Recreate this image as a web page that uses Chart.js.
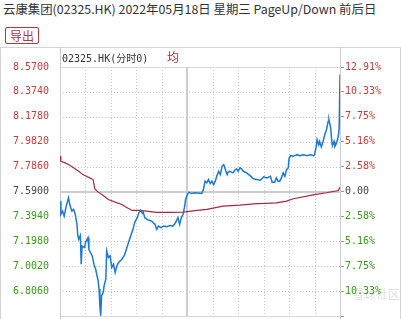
<!DOCTYPE html>
<html>
<head>
<meta charset="utf-8">
<script src="https://cdn.jsdelivr.net/npm/chart.js@4"></script>
<style>
  html,body{margin:0;padding:0;background:#fff;overflow:hidden;width:401px;height:319px;}
  .title{position:absolute;left:3px;top:0px;font:12.4px "Noto Sans CJK SC",sans-serif;color:#333;white-space:nowrap;}
  .btn{position:absolute;left:5px;top:27px;width:32px;height:15px;border:1px solid #b03a3a;border-radius:2px;
       font:12px/15px "Noto Sans CJK SC",sans-serif;color:#b03a3a;text-align:center;}
  .panel{position:absolute;left:0;top:47px;width:399px;height:290px;border:1px solid #d4d4d4;}
  .wrap{position:absolute;left:0;top:47px;width:401px;height:278px;}
  .code{position:absolute;left:62px;top:50px;font:10px "DejaVu Sans Mono","Noto Sans CJK SC",monospace;color:#333;white-space:nowrap;}
  .avg{position:absolute;left:167px;top:48px;font:12px "Noto Sans CJK SC",sans-serif;color:#b0303c;}
  .wm{position:absolute;left:352px;top:285px;font:12px "Noto Sans CJK SC",sans-serif;color:rgba(140,140,140,0.28);}
</style>
</head>
<body>
<div class="title">云康集团(02325.HK) 2022年05月18日 星期三 PageUp/Down 前后日</div>
<div class="btn">导出</div>
<div class="panel"></div>
<div class="wrap"><canvas id="chart"></canvas></div>
<div class="code">02325.HK(分时0)</div>
<div class="avg">均</div>
<div class="wm">雪球社区</div>
<script>
const prevClose = 7.59;
const priceTicks = [8.57, 8.374, 8.178, 7.982, 7.786, 7.59, 7.394, 7.198, 7.002, 6.806, 6.61];
const priceLabels = ['8.5700','8.3740','8.1780','7.9820','7.7860','7.5900','7.3940','7.1980','7.0020','6.8060',''];
const pctLabels = ['12.91%','10.33%','7.75%','5.16%','2.58%','0.00','2.58%','5.16%','7.75%','10.33%',''];
const timeTicks = [0,30,60,90,120,150,180,210,240,270,300,330];

// minute of session (0..330) and last price
const priceMinutes = [0,1,3,5,7,10,12,14,16,18,20,21,22,24,25,26,29,30,33,34,37,38,40,42,44,45,46,47,48,49,51,52,54,55,57,59,61,63,65,67,69,73,76,82,86,88,91,93,95,97,98,100,104,108,112,114,116,119,122,126,130,133,135,137,139,141,143,145,147,148,150,152,155,159,167,169,171,173,175,177,179,181,183,185,187,189,191,193,195,197,198,200,204,206,208,210,212,214,216,220,224,228,232,236,240,244,248,250,253,255,257,259,261,263,265,267,269,270,272,275,279,283,287,291,295,299,300,302,303,305,306,308,310,312,314,316,317,319,320,321,323,324,326,328,329,330];
const priceValues = [7.514,7.410,7.436,7.396,7.465,7.541,7.475,7.436,7.449,7.410,7.331,7.240,7.214,7.245,7.018,7.161,7.149,7.188,7.227,7.135,7.096,7.083,7.018,6.978,6.916,6.887,6.822,6.691,6.612,6.769,6.796,6.848,6.900,7.122,7.070,7.083,6.992,7.018,6.953,7.004,7.031,7.057,7.088,7.214,7.292,7.345,7.384,7.423,7.443,7.418,7.428,7.384,7.365,7.357,7.331,7.292,7.318,7.305,7.318,7.313,7.323,7.318,7.331,7.357,7.384,7.331,7.384,7.410,7.475,7.527,7.566,7.585,7.574,7.580,7.574,7.606,7.671,7.658,7.684,7.653,7.671,7.645,7.671,7.715,7.749,7.723,7.788,7.802,7.762,7.723,7.741,7.749,7.737,7.757,7.768,7.749,7.776,7.768,7.749,7.737,7.715,7.690,7.684,7.679,7.705,7.697,7.710,7.663,7.663,7.697,7.671,7.671,7.697,7.737,7.710,7.762,7.776,7.854,7.872,7.867,7.880,7.872,7.880,7.872,7.880,7.872,7.880,7.945,7.998,7.958,7.984,7.940,7.984,8.037,8.076,8.141,8.154,8.089,8.011,7.951,7.984,7.945,7.972,8.024,8.089,8.51];

// average price
const avgMinutes = [0,1,6,10,16,22,27,31,35,39,41,45,51,57,65,73,77,85,94,102,114,130,145,159,173,192,212,232,242,255,267,275,300,314,328,330];
const avgValues = [7.867,7.828,7.815,7.802,7.776,7.749,7.723,7.710,7.697,7.684,7.611,7.585,7.559,7.527,7.506,7.488,7.470,7.441,7.441,7.436,7.425,7.425,7.428,7.439,7.449,7.475,7.483,7.494,7.496,7.501,7.514,7.533,7.566,7.580,7.598,7.625];

const RED = '#c83c3c', GREEN = '#3a9a1e', MID = '#444';
function tickColor(v){
  if (Math.abs(v - prevClose) < 1e-6) return MID;
  return v > prevClose ? RED : GREEN;
}

const gridPlugin = {
  id:'gridLines',
  beforeDatasetsDraw(chart){
    const {ctx, chartArea:a, scales:{x,y}} = chart;
    ctx.save();
    ctx.lineWidth = 1;
    // dotted lines
    ctx.strokeStyle = '#c8c8c8';
    ctx.setLineDash([1,2]);
    priceTicks.forEach((v,i)=>{
      if (i===0 || i===5 || i===priceTicks.length-1) return;
      const py = Math.round(y.getPixelForValue(v)) + 0.5;
      ctx.beginPath(); ctx.moveTo(a.left, py); ctx.lineTo(a.right, py); ctx.stroke();
    });
    timeTicks.forEach((t,i)=>{
      if (i===0 || i===5 || i===timeTicks.length-1) return;
      const px = Math.round(x.getPixelForValue(t)) + 0.5;
      ctx.beginPath(); ctx.moveTo(px, a.top); ctx.lineTo(px, a.bottom); ctx.stroke();
    });
    // solid lines
    ctx.setLineDash([]);
    ctx.strokeStyle = '#d8d8d8';
    let py = Math.round(y.getPixelForValue(priceTicks[0])) + 0.5;
    ctx.beginPath(); ctx.moveTo(a.left, py); ctx.lineTo(a.right, py); ctx.stroke();
    py = Math.round(y.getPixelForValue(priceTicks[priceTicks.length-1])) + 0.5;
    ctx.beginPath(); ctx.moveTo(a.left, py); ctx.lineTo(a.right, py); ctx.stroke();
    ctx.strokeStyle = '#cccccc';
    [0, timeTicks.length-1].forEach(i=>{
      const px = Math.round(x.getPixelForValue(timeTicks[i])) + 0.5;
      ctx.beginPath(); ctx.moveTo(px, 0); ctx.lineTo(px, chart.height); ctx.stroke();
    });
    ctx.lineWidth = 2;
    ctx.strokeStyle = '#cdcdcd';
    py = Math.round(y.getPixelForValue(prevClose));
    ctx.beginPath(); ctx.moveTo(a.left, py); ctx.lineTo(a.right, py); ctx.stroke();
    const mx = Math.round(x.getPixelForValue(timeTicks[5]));
    ctx.beginPath(); ctx.moveTo(mx, a.top); ctx.lineTo(mx, a.bottom); ctx.stroke();
    ctx.restore();
  }
};

const ctx = document.getElementById('chart').getContext('2d');
const chart = new Chart(ctx,{
  type:'line',
  data:{
    datasets:[
      {label:'价格', data:priceMinutes.map((m,i)=>({x:m,y:priceValues[i]})),
       borderColor:'#1e78d2', borderWidth:1.5, pointRadius:0, tension:0, yAxisID:'y'},
      {label:'均价', data:avgMinutes.map((m,i)=>({x:m,y:avgValues[i]})),
       borderColor:'#a8283c', borderWidth:1.2, pointRadius:0, tension:0, yAxisID:'y'}
    ]
  },
  options:{
    responsive:true,
    maintainAspectRatio:false,
    animation:false,
    layout:{padding:{top:20,bottom:8,left:0,right:0}},
    plugins:{legend:{display:false},tooltip:{enabled:false}},
    scales:{
      x:{type:'linear',min:0,max:330,display:false},
      y:{
        position:'left', min:6.61, max:8.57,
        afterFit(s){ s.width = 60; },
        afterBuildTicks(s){ s.ticks = priceTicks.map(v=>({value:v})); },
        grid:{display:false}, border:{display:false},
        ticks:{
          padding:3,
          autoSkip:false,
          font:{family:'DejaVu Sans Mono',size:10},
          color:c=>tickColor(c.tick.value),
          callback:(v,i)=>priceLabels[i]
        }
      },
      y2:{
        position:'right', min:6.61, max:8.57,
        afterFit(s){ s.width = 61; },
        afterBuildTicks(s){ s.ticks = priceTicks.map(v=>({value:v})); },
        grid:{drawOnChartArea:false, drawTicks:true, tickLength:4, color:'#999', tickColor:'#999'},
        border:{display:false},
        ticks:{
          padding:1,
          autoSkip:false,
          font:{family:'DejaVu Sans Mono',size:10},
          color:c=>tickColor(c.tick.value),
          callback:(v,i)=>pctLabels[i]
        }
      }
    }
  },
  plugins:[gridPlugin]
});
</script>
</body>
</html>
